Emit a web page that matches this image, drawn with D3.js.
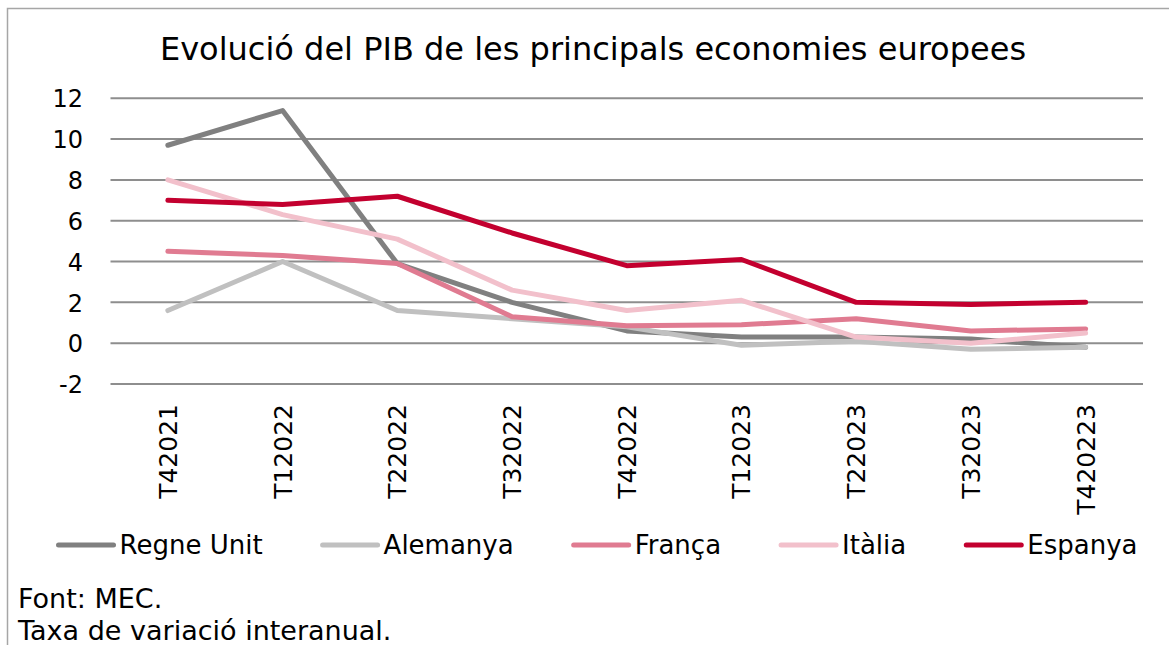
<!DOCTYPE html>
<html>
<head>
<meta charset="utf-8">
<script src="https://cdn.jsdelivr.net/npm/d3@7"></script>
<style>
  html, body { margin: 0; padding: 0; background: #fff; }
  svg { display: block; }
</style>
</head>
<body>
<svg id="chart" width="1169" height="645"></svg>
<script>
const title = "Evolució del PIB de les principals economies europees";
const categories = ["T42021", "T12022", "T22022", "T32022", "T42022", "T12023", "T22023", "T32023", "T420223"];
const yTicks = [-2, 0, 2, 4, 6, 8, 10, 12];
const seriesNames = ["Regne Unit", "Alemanya", "França", "Itàlia", "Espanya"];
const seriesColors = ["#808080", "#c0c0c0", "#e07b91", "#f2c0cb", "#c3002f"];
const regneUnit = [9.7, 11.4, 3.9, 2.0, 0.6, 0.3, 0.3, 0.2, -0.2];
const alemanya  = [1.6, 4.0, 1.6, 1.2, 0.8, -0.1, 0.1, -0.3, -0.2];
const franca    = [4.5, 4.3, 3.9, 1.3, 0.85, 0.9, 1.2, 0.6, 0.7];
const italia    = [8.0, 6.3, 5.1, 2.6, 1.6, 2.1, 0.3, 0.0, 0.5];
const espanya   = [7.0, 6.8, 7.2, 5.4, 3.8, 4.1, 2.0, 1.9, 2.0];
const footnotes = ["Font: MEC.", "Taxa de variació interanual."];

const seriesValues = [regneUnit, alemanya, franca, italia, espanya];
const series = seriesNames.map((n, i) => ({ name: n, color: seriesColors[i], values: seriesValues[i] }));

const svg = d3.select("#chart");
const W = 1169, H = 645;
const mainFont = "'DejaVu Sans', Verdana, sans-serif";

// border
svg.append("path")
  .attr("d", `M7.5,${H} L7.5,8.5 L${W},8.5`)
  .attr("fill", "none").attr("stroke", "#a6a6a6").attr("stroke-width", 1.5);

// title
svg.append("text")
  .attr("x", 593).attr("y", 60)
  .attr("text-anchor", "middle")
  .attr("font-family", mainFont).attr("font-size", 32).attr("fill", "#000")
  .text(title);

const x = d3.scaleBand().domain(categories).range([110.5, 1143]);
const y = d3.scaleLinear().domain([-2, 12]).range([384, 98.3]);

// gridlines
const grid = svg.append("g");
grid.selectAll("line").data(yTicks).join("line")
  .attr("x1", x.range()[0]).attr("x2", x.range()[1])
  .attr("y1", d => y(d)).attr("y2", d => y(d))
  .attr("stroke", "#8e8e8e").attr("stroke-width", 2);

// y axis
const yAxis = svg.append("g")
  .attr("transform", "translate(83,0)")
  .call(d3.axisLeft(y).tickValues(yTicks).tickSize(0).tickPadding(0).tickFormat(d => String(d)));
yAxis.select(".domain").remove();
yAxis.selectAll("text")
  .attr("font-family", mainFont).attr("font-size", 24).attr("fill", "#000")
  .attr("dy", "0.36em");

// x axis labels
const xAxis = svg.append("g")
  .attr("transform", "translate(0,404)")
  .call(d3.axisBottom(x).tickSize(0).tickPadding(0));
xAxis.select(".domain").remove();
xAxis.selectAll("text")
  .attr("font-family", mainFont).attr("font-size", 25).attr("fill", "#000")
  .attr("transform", "rotate(-90)")
  .attr("text-anchor", "end")
  .attr("x", 0).attr("y", 0)
  .attr("dy", "0.36em");

// lines
const line = d3.line()
  .x((d, i) => x(categories[i]) + x.bandwidth() / 2)
  .y(d => y(d));
svg.append("g").selectAll("path").data(series).join("path")
  .attr("d", d => line(d.values))
  .attr("fill", "none")
  .attr("stroke", d => d.color)
  .attr("stroke-width", 5)
  .attr("stroke-linecap", "round")
  .attr("stroke-linejoin", "round");

// legend
const legend = svg.append("g");
const legY = 545;
const lineLen = 55, gapText = 6, gapItem = 60;
const items = legend.selectAll("g").data(series).join("g");
items.append("line")
  .attr("x1", 0).attr("x2", lineLen).attr("y1", 0).attr("y2", 0)
  .attr("stroke", d => d.color).attr("stroke-width", 5).attr("stroke-linecap", "round");
items.append("text")
  .attr("x", lineLen + gapText).attr("y", 8.5)
  .attr("font-family", mainFont).attr("font-size", 26).attr("fill", "#000")
  .text(d => d.name);
let cx = 0;
const offsets = [];
items.each(function () {
  offsets.push(cx);
  const tw = d3.select(this).select("text").node().getComputedTextLength();
  cx += lineLen + gapText + tw + gapItem;
});
const totalW = cx - gapItem;
const startX = 598 - totalW / 2;
items.attr("transform", (d, i) => `translate(${startX + offsets[i]},${legY})`);

// footnotes
svg.append("g").selectAll("text").data(footnotes).join("text")
  .attr("x", 18).attr("y", (d, i) => 608 + i * 32)
  .attr("font-family", mainFont).attr("font-size", 27).attr("fill", "#000")
  .text(d => d);
</script>
</body>
</html>
